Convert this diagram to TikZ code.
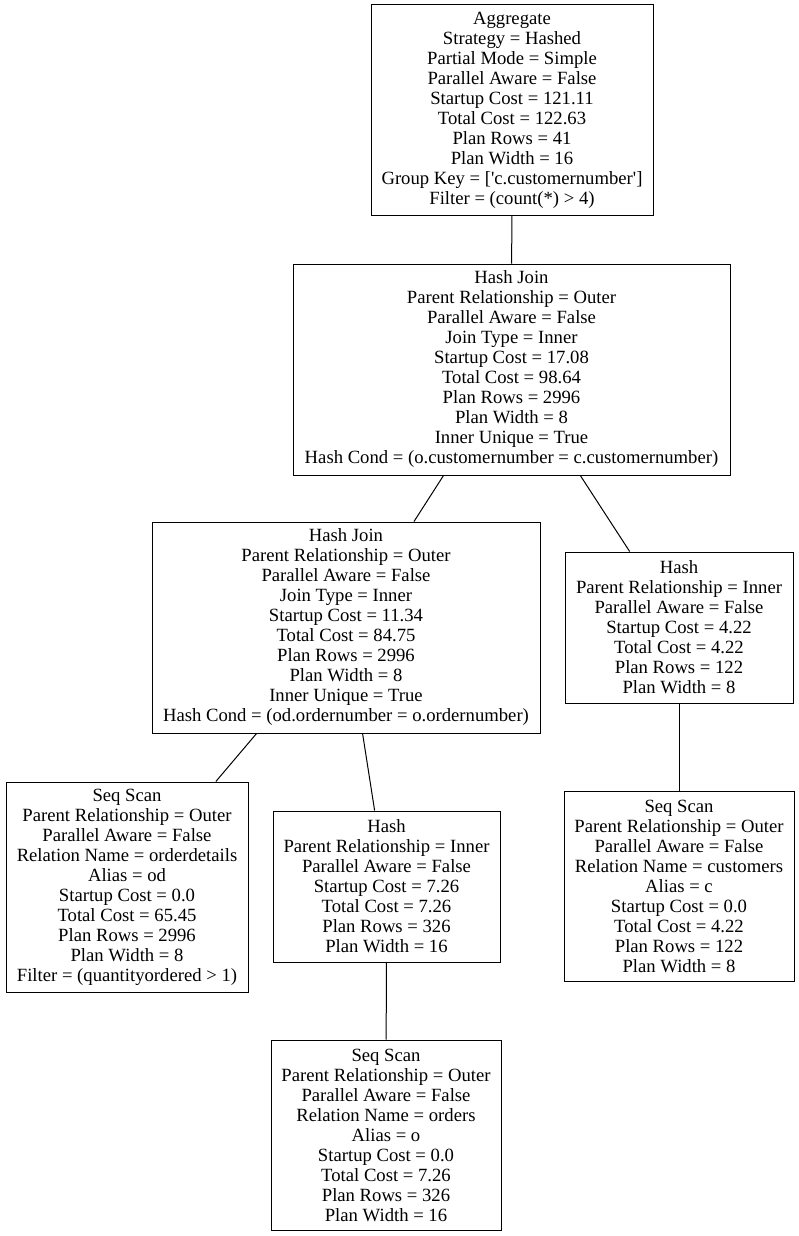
\documentclass[tikz,border=0pt]{standalone}
\usepackage{fontspec}
\setmainfont{Liberation Serif}[Ligatures=TeXOff]
\begin{document}
\begin{tikzpicture}[x=1pt,y=-1pt,
  plan/.style={draw=black,line width=1pt,align=center,inner sep=0pt,
    font=\fontsize{18.67}{20}\selectfont},
  edge/.style={draw=black,line width=1pt}]
\useasboundingbox (0,0) rectangle (799,1236);
\node[plan,minimum width=282,minimum height=210] (agg) at (512,110)
 {Aggregate\\Strategy = Hashed\\Partial Mode = Simple\\Parallel Aware = False\\Startup Cost = 121.11\\Total Cost = 122.63\\Plan Rows = 41\\Plan Width = 16\\Group Key = ['c.customernumber']\\Filter = (count(*) > 4)};
\node[plan,minimum width=437,minimum height=211] (hj1) at (511.5,369.5)
 {Hash Join\\Parent Relationship = Outer\\Parallel Aware = False\\Join Type = Inner\\Startup Cost = 17.08\\Total Cost = 98.64\\Plan Rows = 2996\\Plan Width = 8\\Inner Unique = True\\Hash Cond = (o.customernumber = c.customernumber)};
\node[plan,minimum width=388,minimum height=211] (hj2) at (346,627.5)
 {Hash Join\\Parent Relationship = Outer\\Parallel Aware = False\\Join Type = Inner\\Startup Cost = 11.34\\Total Cost = 84.75\\Plan Rows = 2996\\Plan Width = 8\\Inner Unique = True\\Hash Cond = (od.ordernumber = o.ordernumber)};
\node[plan,minimum width=228,minimum height=151] (hr) at (679,627.5)
 {Hash\\Parent Relationship = Inner\\Parallel Aware = False\\Startup Cost = 4.22\\Total Cost = 4.22\\Plan Rows = 122\\Plan Width = 8};
\node[plan,minimum width=242,minimum height=210] (sod) at (127,887)
 {Seq Scan\\Parent Relationship = Outer\\Parallel Aware = False\\Relation Name = orderdetails\\Alias = od\\Startup Cost = 0.0\\Total Cost = 65.45\\Plan Rows = 2996\\Plan Width = 8\\Filter = (quantityordered > 1)};
\node[plan,minimum width=227,minimum height=151] (hm) at (386.5,886.5)
 {Hash\\Parent Relationship = Inner\\Parallel Aware = False\\Startup Cost = 7.26\\Total Cost = 7.26\\Plan Rows = 326\\Plan Width = 16};
\node[plan,minimum width=230,minimum height=190] (sc) at (679,886)
 {Seq Scan\\Parent Relationship = Outer\\Parallel Aware = False\\Relation Name = customers\\Alias = c\\Startup Cost = 0.0\\Total Cost = 4.22\\Plan Rows = 122\\Plan Width = 8};
\node[plan,minimum width=230,minimum height=190] (so) at (386,1135)
 {Seq Scan\\Parent Relationship = Outer\\Parallel Aware = False\\Relation Name = orders\\Alias = o\\Startup Cost = 0.0\\Total Cost = 7.26\\Plan Rows = 326\\Plan Width = 16};
\draw[edge] (agg) -- (hj1);
\draw[edge] (hj1) -- (hj2);
\draw[edge] (hj1) -- (hr);
\draw[edge] (hj2) -- (sod);
\draw[edge] (hj2) -- (hm);
\draw[edge] (hr) -- (sc);
\draw[edge] (hm) -- (so);
\end{tikzpicture}
\end{document}
